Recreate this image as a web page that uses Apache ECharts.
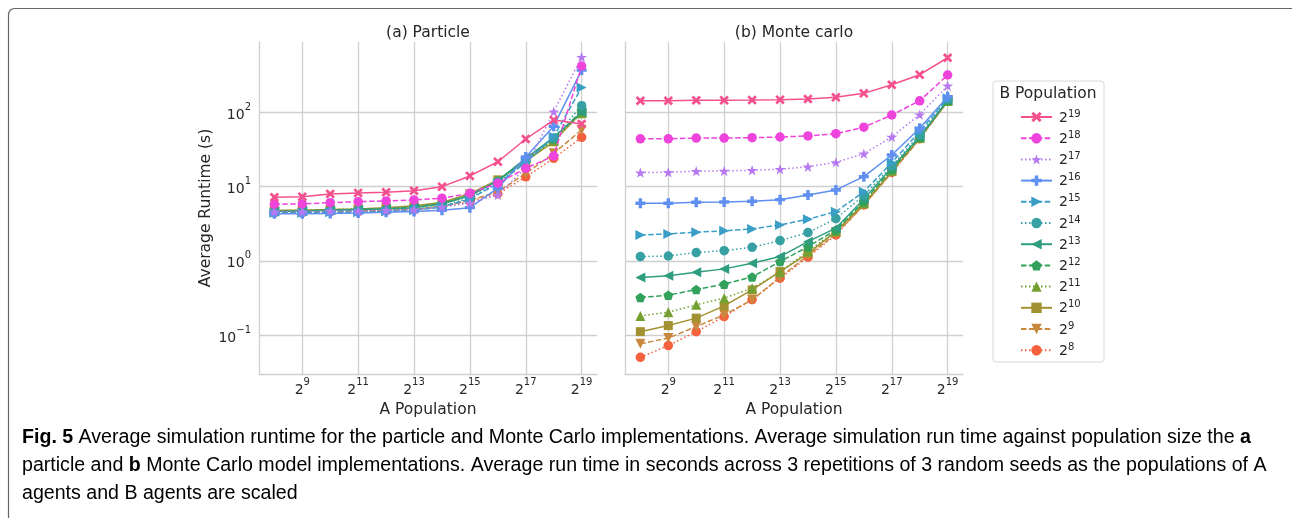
<!DOCTYPE html>
<html><head><meta charset="utf-8">
<script src="https://cdn.jsdelivr.net/npm/echarts@6/dist/echarts.min.js"></script>
<style>html,body{margin:0;padding:0;background:#fff}#c{width:1292px;height:518px}</style>
</head><body><div id="c"></div>
<script>
// A population (x values)
const popA = [256, 512, 1024, 2048, 4096, 8192, 16384, 32768, 65536, 131072, 262144, 524288];
// B population exponents (legend order)
const bExp = [19, 18, 17, 16, 15, 14, 13, 12, 11, 10, 9, 8];
// tick values
const xTicks = [512, 2048, 8192, 32768, 131072, 524288];
const yTicks = [0.1, 1, 10, 100];

// (a) Particle runtimes (s)
const p19 = [7.18, 7.31, 7.95, 8.2, 8.38, 8.8, 9.97, 13.9, 21.6, 43.7, 78.7, 69.6];
const p18 = [5.78, 5.83, 6.07, 6.26, 6.4, 6.6, 6.96, 8.1, 11.1, 17.6, 25.8, 420];
const p17 = [4.6, 4.6, 4.7, 4.7, 4.8, 4.9, 5.3, 6.0, 7.7, 18, 102, 555];
const p16 = [4.3, 4.3, 4.35, 4.4, 4.5, 4.6, 4.8, 5.2, 9.5, 25, 65, 370];
const p15 = [4.4, 4.4, 4.5, 4.5, 4.6, 4.8, 5.3, 6.8, 11, 21, 47, 215];
const p14 = [4.5, 4.5, 4.6, 4.7, 4.8, 5.0, 5.5, 7.0, 11.5, 22, 45, 123];
const p13 = [4.6, 4.7, 4.8, 4.9, 5.0, 5.2, 5.8, 7.5, 12, 24, 46, 100];
const p12 = [4.6, 4.7, 4.8, 4.9, 5.0, 5.3, 5.9, 7.6, 12, 23, 44, 105];
const p11 = [4.7, 4.8, 4.9, 5.0, 5.1, 5.4, 6.0, 7.8, 12, 22, 42, 97];
const p10 = [4.8, 4.8, 4.9, 5.0, 5.2, 5.5, 6.1, 8.0, 12.3, 22, 40, 100];
const p9  = [4.5, 4.5, 4.6, 4.7, 4.8, 5.0, 5.4, 6.5, 8.5, 15, 28, 58];
const p8  = [4.5, 4.5, 4.6, 4.6, 4.7, 4.9, 5.3, 6.3, 8.0, 13.5, 24, 46];

// (b) Monte carlo runtimes (s)
const m19 = [143, 143, 145, 145, 146, 148, 151, 159, 180, 235, 321, 543];
const m18 = [44, 44, 45, 45, 45.5, 46.5, 48, 51.5, 63, 92, 143, 318];
const m17 = [15.4, 15.6, 16.1, 16.2, 16.6, 17.1, 18.5, 21.2, 27.7, 46.5, 93, 228];
const m16 = [5.96, 5.96, 6.15, 6.2, 6.34, 6.66, 7.7, 9.0, 13.6, 26.6, 61, 162];
const m15 = [2.23, 2.30, 2.43, 2.53, 2.69, 3.04, 3.63, 4.59, 8.5, 21, 55, 155];
const m14 = [1.14, 1.16, 1.29, 1.37, 1.52, 1.87, 2.40, 3.70, 7.6, 19, 50, 150];
const m13 = [0.594, 0.627, 0.703, 0.778, 0.929, 1.14, 1.81, 2.75, 6.8, 18, 47, 145];
const m12 = [0.32, 0.344, 0.41, 0.484, 0.607, 0.975, 1.55, 2.6, 6.3, 17, 46, 145];
const m11 = [0.181, 0.203, 0.255, 0.314, 0.428, 0.703, 1.35, 2.5, 6.0, 16.5, 45, 142];
const m10 = [0.111, 0.134, 0.169, 0.247, 0.405, 0.716, 1.26, 2.47, 5.8, 16, 45, 140];
const m9  = [0.0762, 0.0909, 0.130, 0.187, 0.298, 0.60, 1.18, 2.3, 5.6, 15.5, 44, 140];
const m8  = [0.050, 0.0722, 0.111, 0.177, 0.30, 0.583, 1.12, 2.23, 5.65, 15.5, 44, 145];

const particle = {19:p19,18:p18,17:p17,16:p16,15:p15,14:p14,13:p13,12:p12,11:p11,10:p10,9:p9,8:p8};
const monte = {19:m19,18:m18,17:m17,16:m16,15:m15,14:m14,13:m13,12:m12,11:m11,10:m10,9:m9,8:m8};

const colors = {19:'#f4508e',18:'#ee44dc',17:'#b679ef',16:'#5f8ff0',15:'#3a9ec6',14:'#36a0a3',13:'#2f9e80',12:'#31a15c',11:'#73a031',10:'#a39231',9:'#c8893e',8:'#f5603d'};
const P_X = 'path://M2,0 L5,3 L8,0 L10,2 L7,5 L10,8 L8,10 L5,7 L2,10 L0,8 L3,5 L0,2 Z';
const P_PLUS = 'path://M3.3,0 H6.7 V3.3 H10 V6.7 H6.7 V10 H3.3 V6.7 H0 V3.3 H3.3 Z';
const P_STAR = 'path://M50,0 L61.8,35.1 L98.1,35.1 L68.8,56.8 L79.4,90.5 L50,69.8 L20.6,90.5 L31.2,56.8 L1.9,35.1 L38.2,35.1 Z';
const P_PENT = 'path://M50,0 L97.6,34.5 L79.4,90.5 L20.6,90.5 L2.4,34.5 Z';
const markers = {
  19:{s:P_X,z:9.5,r:0}, 18:{s:'circle',z:9.5,r:0}, 17:{s:P_STAR,z:11,r:0}, 16:{s:P_PLUS,z:10,r:0},
  15:{s:'triangle',z:10,r:-90}, 14:{s:'circle',z:9.5,r:0}, 13:{s:'triangle',z:10,r:90}, 12:{s:P_PENT,z:10,r:0},
  11:{s:'triangle',z:10,r:0}, 10:{s:'rect',z:9,r:0}, 9:{s:'triangle',z:10,r:180}, 8:{s:'circle',z:9.5,r:0}
};
const dashes = ['solid', [5.5, 2.4], [1.5, 2.5]];

const FONT = 'DejaVu Sans';
const TXT = '#262626';
const GRIDC = '#cfcfcf';

function sup(base, e) { return '{b|' + base + '}{s|' + e + '}'; }
const richX = {
  b: {fontFamily: FONT, fontSize: 14, color: TXT, lineHeight: 20, verticalAlign: 'bottom'},
  s: {fontFamily: FONT, fontSize: 10, color: TXT, lineHeight: 13, verticalAlign: 'top'}
};
const richLeg = {
  b: {fontFamily: FONT, fontSize: 14, color: TXT, lineHeight: 16, verticalAlign: 'bottom', padding: [4, 0, 0, 0]},
  s: {fontFamily: FONT, fontSize: 10, color: TXT, lineHeight: 11, verticalAlign: 'top'}
};

const series = [];
bExp.forEach((e, k) => {
  const m = markers[e];
  [particle[e], monte[e]].forEach((vals, g) => {
    series.push({
      name: String(e), type: 'line', xAxisIndex: g, yAxisIndex: g,
      data: popA.map((x, i) => [x, vals[i]]),
      symbol: m.s, symbolSize: m.z, symbolRotate: m.r, symbolKeepAspect: true,
      showAllSymbol: true,
      lineStyle: {color: colors[e], width: 1.5, type: dashes[k % 3]},
      itemStyle: {color: colors[e]},
      emphasis: {disabled: true}, animation: false, z: 20 - k
    });
  });
});

function xAxis(i) {
  return {
    type: 'log', logBase: 2, gridIndex: i, min: Math.pow(2, 7.45), max: Math.pow(2, 19.55),
    name: 'A Population', nameLocation: 'middle', nameGap: 27,
    nameTextStyle: {fontFamily: FONT, fontSize: 15.5, color: TXT},
    axisLine: {show: true, onZero: false, lineStyle: {color: GRIDC, width: 1.3}},
    axisTick: {show: false, customValues: xTicks},
    axisLabel: {customValues: xTicks, margin: 3, formatter: v => sup('2', Math.round(Math.log2(v))), rich: richX},
    splitLine: {show: true, lineStyle: {color: GRIDC, width: 1.3}},
    minorTick: {show: false}, minorSplitLine: {show: false}
  };
}
function yAxis(i) {
  return {
    type: 'log', logBase: 10, gridIndex: i, min: Math.pow(10, -1.525), max: Math.pow(10, 2.947),
    name: i === 0 ? 'Average Runtime (s)' : '', nameLocation: 'middle', nameGap: 45,
    nameTextStyle: {fontFamily: FONT, fontSize: 15.5, color: TXT},
    axisLine: {show: true, lineStyle: {color: GRIDC, width: 1.3}},
    axisTick: {show: false, customValues: yTicks},
    axisLabel: {show: i === 0, customValues: yTicks, margin: 8,
      formatter: v => { const e = Math.round(Math.log10(v)); return sup('10', e < 0 ? '\u2212' + (-e) : e); }, rich: richX},
    splitLine: {show: true, lineStyle: {color: GRIDC, width: 1.3}},
    minorTick: {show: false}, minorSplitLine: {show: false}
  };
}

// caption text
const cap1a = 'Fig. 5', cap1b = ' Average simulation runtime for the particle and Monte Carlo implementations. Average simulation run time against population size the ', cap1c = 'a';
const cap2a = 'particle and ', cap2b = 'b', cap2c = ' Monte Carlo model implementations. Average run time in seconds across 3 repetitions of 3 random seeds as the populations of A';
const cap3 = 'agents and B agents are scaled';

const capFont = 'Liberation Sans';
const capSize = 19.6;
const capRich = {
  n: {fontFamily: capFont, fontSize: capSize, color: '#222'},
  B: {fontFamily: capFont, fontSize: capSize, color: '#222', fontWeight: 'bold'}
};

const option = {
  animation: false,
  grid: [
    {left: 259, top: 42, width: 338, height: 332},
    {left: 625, top: 42, width: 338, height: 332}
  ],
  xAxis: [xAxis(0), xAxis(1)],
  yAxis: [yAxis(0), yAxis(1)],
  legend: {
    orient: 'vertical', left: 1015, top: 102, itemWidth: 31, itemHeight: 13, itemGap: 3.2,
    data: bExp.map(String), formatter: n => sup('2', n),
    textStyle: {rich: richLeg, padding: [0, 0, 0, 2]}, selectedMode: false
  },
  series: series,
  graphic: [
    {type: 'rect', shape: {x: 8.5, y: 8.5, width: 1300, height: 540, r: 6}, style: {fill: 'none', stroke: '#666', lineWidth: 1.2}, silent: true, z: -10},
    {type: 'rect', shape: {x: 993, y: 81, width: 111, height: 281, r: 3}, style: {fill: '#fff', stroke: '#d8d8d8', lineWidth: 1}, silent: true, z: -5},
    {type: 'text', x: 1048, y: 94, style: {text: 'B Population', font: '15.5px "DejaVu Sans"', fill: TXT, align: 'center', verticalAlign: 'middle'}},
    {type: 'text', x: 428, y: 33, style: {text: '(a) Particle', font: '15.5px "DejaVu Sans"', fill: TXT, align: 'center', verticalAlign: 'middle'}},
    {type: 'text', x: 794, y: 33, style: {text: '(b) Monte carlo', font: '15.5px "DejaVu Sans"', fill: TXT, align: 'center', verticalAlign: 'middle'}},
    {type: 'text', x: 22, y: 438, style: {text: '{B|' + cap1a + '}{n|' + cap1b + '}{B|' + cap1c + '}', rich: capRich, verticalAlign: 'middle'}},
    {type: 'text', x: 22, y: 466, style: {text: '{n|' + cap2a + '}{B|' + cap2b + '}{n|' + cap2c + '}', rich: capRich, verticalAlign: 'middle'}},
    {type: 'text', x: 22, y: 494, style: {text: '{n|' + cap3 + '}', rich: capRich, verticalAlign: 'middle'}}
  ]
};
const chart = echarts.init(document.getElementById('c'), null, {renderer: 'canvas'});
chart.setOption(option);
</script></body></html>
